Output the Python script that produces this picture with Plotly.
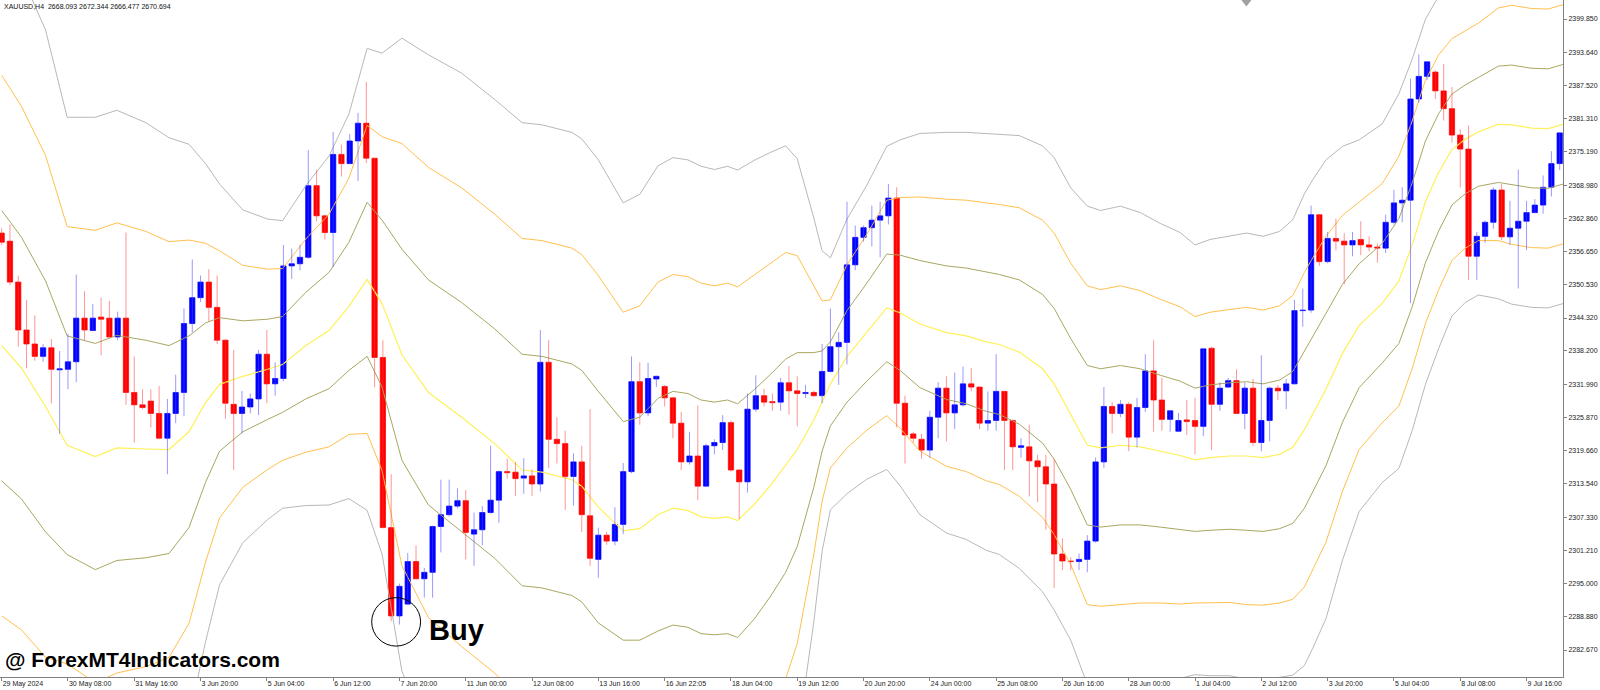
import plotly.graph_objects as go

# XAUUSD H4 candles (index 0 = 29 May 2024 00:00)
opens = [2360.1, 2358.6, 2351.0, 2342.1, 2339.5, 2337.2, 2338.8, 2334.7, 2334.8, 2336.2,
         2344.3, 2342.0, 2344.5, 2344.3, 2340.8, 2344.3, 2330.5, 2328.2, 2328.9, 2326.6,
         2322.0, 2326.6, 2330.5, 2343.3, 2348.1, 2351.0, 2346.3, 2340.2, 2328.3, 2326.6,
         2327.8, 2329.3, 2337.6, 2332.1, 2333.1, 2354.0, 2354.4, 2355.6, 2368.9, 2363.3,
         2360.2, 2374.7, 2373.0, 2377.2, 2380.5, 2374.0, 2337.0, 2305.4, 2289.0, 2291.2,
         2299.1, 2295.9, 2297.1, 2305.6, 2307.8, 2309.4, 2310.4, 2304.2, 2305.0, 2308.2,
         2310.5, 2315.8, 2315.7, 2314.6, 2315.0, 2313.5, 2336.1, 2321.8, 2321.0, 2314.9,
         2317.6, 2307.6, 2299.5, 2304.0, 2302.9, 2306.0, 2315.8, 2332.5, 2326.7, 2333.0,
         2331.6, 2329.5, 2324.8, 2317.6, 2318.7, 2313.1, 2320.6, 2321.2, 2324.9, 2316.1,
         2313.9, 2327.4, 2329.9, 2328.8, 2328.7, 2332.3, 2330.8, 2330.3, 2330.5, 2329.9,
         2334.4, 2339.0, 2339.8, 2354.2, 2359.3, 2361.1, 2362.5, 2363.3, 2366.6, 2328.5,
         2322.8, 2321.8, 2319.8, 2325.9, 2331.3, 2326.7, 2328.2, 2332.1, 2331.5, 2324.8,
         2325.3, 2330.7, 2325.3, 2320.3, 2320.4, 2317.8, 2316.7, 2313.5, 2300.5, 2299.2,
         2299.1, 2299.5, 2302.9, 2317.6, 2327.9, 2326.6, 2328.3, 2322.2, 2327.7, 2334.5,
         2329.1, 2325.5, 2323.3, 2325.4, 2325.3, 2324.2, 2338.7, 2328.3, 2331.5, 2332.7,
         2326.6, 2331.3, 2321.2, 2325.3, 2331.3, 2330.8, 2332.1, 2345.7, 2345.8, 2363.5,
         2354.8, 2359.1, 2358.6, 2357.9, 2358.9, 2357.9, 2357.5, 2357.3, 2362.1, 2365.7,
         2366.2, 2385.0, 2389.2, 2390.0, 2386.5, 2383.2, 2378.3, 2375.7, 2355.8, 2359.5,
         2362.1, 2368.1, 2359.4, 2361.0, 2362.3, 2363.9, 2365.3, 2368.6, 2373.0]
highs = [2361.0, 2361.7, 2352.2, 2347.7, 2344.8, 2339.5, 2340.4, 2338.2, 2341.4, 2352.4,
         2349.3, 2346.9, 2348.1, 2347.5, 2345.5, 2360.2, 2337.2, 2331.1, 2331.1, 2331.7,
         2329.3, 2333.8, 2346.1, 2355.2, 2352.2, 2353.4, 2352.2, 2340.4, 2338.4, 2330.8,
         2330.3, 2338.4, 2342.1, 2336.1, 2357.9, 2357.2, 2357.9, 2375.5, 2371.8, 2363.5,
         2378.9, 2376.5, 2378.5, 2382.4, 2388.2, 2374.0, 2340.2, 2315.3, 2295.0, 2300.7,
         2302.1, 2297.9, 2305.8, 2314.3, 2314.3, 2312.7, 2312.4, 2308.2, 2309.4, 2320.6,
         2316.0, 2318.2, 2317.6, 2318.3, 2316.2, 2342.1, 2340.2, 2325.9, 2323.4, 2319.2,
         2320.6, 2327.4, 2305.4, 2304.6, 2309.2, 2317.4, 2337.2, 2336.1, 2336.0, 2333.6,
         2331.9, 2329.6, 2326.9, 2323.2, 2328.1, 2321.0, 2321.8, 2326.3, 2325.3, 2316.2,
         2330.3, 2333.7, 2331.2, 2330.3, 2333.2, 2335.4, 2333.5, 2331.9, 2330.8, 2339.5,
         2346.1, 2341.7, 2365.9, 2361.5, 2361.5, 2365.2, 2365.9, 2369.2, 2368.6, 2329.9,
         2323.2, 2322.8, 2327.1, 2332.4, 2333.5, 2334.2, 2335.3, 2335.0, 2331.6, 2330.7,
         2337.6, 2330.8, 2325.5, 2322.0, 2324.5, 2318.9, 2318.9, 2318.2, 2303.4, 2299.9,
         2300.6, 2304.0, 2318.4, 2331.5, 2328.7, 2329.1, 2328.7, 2329.5, 2337.6, 2340.2,
         2333.2, 2327.2, 2326.7, 2329.1, 2329.5, 2338.7, 2339.0, 2332.4, 2333.2, 2334.8,
         2332.3, 2333.0, 2337.4, 2331.6, 2331.9, 2333.0, 2347.7, 2349.8, 2365.2, 2363.6,
         2360.3, 2362.8, 2360.1, 2360.3, 2362.3, 2359.5, 2358.2, 2363.5, 2368.1, 2368.6,
         2388.8, 2393.3, 2392.0, 2390.3, 2391.5, 2387.2, 2379.4, 2380.1, 2360.3, 2362.4,
         2368.6, 2369.2, 2366.1, 2371.9, 2366.1, 2366.4, 2370.8, 2375.3, 2378.8]
lows = [2357.9, 2350.4, 2339.0, 2335.0, 2336.4, 2336.2, 2328.5, 2322.8, 2331.1, 2332.4,
        2340.2, 2341.9, 2337.4, 2340.6, 2340.2, 2328.2, 2321.2, 2327.4, 2324.0, 2321.8,
        2315.3, 2324.8, 2326.1, 2341.7, 2347.3, 2343.7, 2339.5, 2325.6, 2316.1, 2322.9,
        2326.6, 2326.3, 2328.5, 2329.9, 2332.6, 2351.6, 2353.2, 2355.3, 2362.3, 2358.9,
        2353.8, 2370.6, 2372.9, 2369.8, 2373.1, 2331.5, 2305.3, 2288.0, 2287.4, 2291.0,
        2295.8, 2292.4, 2292.4, 2300.8, 2307.5, 2309.0, 2299.5, 2298.3, 2302.1, 2308.0,
        2306.3, 2314.5, 2311.3, 2311.7, 2311.3, 2312.1, 2316.5, 2317.3, 2308.7, 2309.5,
        2304.6, 2298.3, 2296.1, 2302.2, 2302.1, 2304.2, 2315.5, 2324.5, 2326.1, 2331.5,
        2327.9, 2322.0, 2316.1, 2317.1, 2310.5, 2313.0, 2319.0, 2319.8, 2315.8, 2307.0,
        2311.9, 2326.9, 2327.9, 2327.1, 2327.1, 2326.4, 2324.2, 2329.5, 2329.7, 2328.5,
        2334.2, 2331.9, 2335.7, 2353.2, 2358.5, 2357.6, 2355.6, 2361.7, 2324.0, 2317.3,
        2321.2, 2318.2, 2318.4, 2322.0, 2321.4, 2323.7, 2327.9, 2330.7, 2323.7, 2323.4,
        2323.4, 2316.1, 2316.1, 2318.4, 2311.2, 2310.1, 2305.0, 2294.2, 2297.5, 2297.5,
        2297.5, 2297.1, 2302.6, 2316.5, 2322.9, 2325.9, 2319.6, 2320.3, 2326.9, 2323.2,
        2323.4, 2323.2, 2323.2, 2322.6, 2319.0, 2322.4, 2319.8, 2327.1, 2331.3, 2326.5,
        2323.7, 2320.6, 2319.6, 2321.4, 2329.1, 2327.4, 2332.0, 2342.7, 2345.3, 2354.0,
        2354.5, 2356.9, 2350.6, 2355.8, 2356.0, 2356.7, 2354.6, 2356.4, 2361.7, 2362.1,
        2347.1, 2384.3, 2388.5, 2385.0, 2381.0, 2376.9, 2368.6, 2351.4, 2351.4, 2358.3,
        2360.9, 2358.8, 2357.9, 2349.8, 2356.9, 2363.8, 2363.7, 2366.9, 2371.8]
closes = [2358.4, 2351.0, 2342.1, 2339.5, 2337.2, 2338.8, 2334.8, 2334.9, 2336.2, 2344.3,
          2342.1, 2344.3, 2344.1, 2340.8, 2344.3, 2330.5, 2328.2, 2327.7, 2326.6, 2322.0,
          2326.6, 2330.5, 2343.3, 2348.1, 2351.0, 2346.3, 2340.2, 2328.5, 2326.6, 2327.8,
          2329.3, 2337.6, 2332.1, 2333.1, 2354.0, 2354.4, 2355.6, 2368.9, 2363.3, 2360.2,
          2374.7, 2373.0, 2377.2, 2380.5, 2374.0, 2337.0, 2305.4, 2289.0, 2294.5, 2299.1,
          2295.9, 2297.1, 2305.6, 2307.8, 2309.4, 2310.4, 2304.5, 2305.0, 2308.2, 2310.5,
          2315.8, 2315.6, 2314.5, 2315.0, 2313.5, 2336.1, 2321.8, 2321.0, 2314.9, 2317.6,
          2307.8, 2299.7, 2304.0, 2302.9, 2306.0, 2315.8, 2332.5, 2326.7, 2333.1, 2333.5,
          2329.5, 2324.8, 2317.6, 2318.7, 2313.1, 2320.6, 2321.2, 2324.9, 2316.1, 2313.9,
          2327.4, 2329.9, 2328.7, 2328.6, 2332.3, 2330.8, 2330.3, 2330.5, 2329.9, 2334.4,
          2339.0, 2339.8, 2354.2, 2359.3, 2361.1, 2362.5, 2363.3, 2366.6, 2328.5, 2322.6,
          2322.0, 2319.8, 2325.9, 2331.3, 2326.7, 2328.2, 2332.1, 2331.5, 2324.8, 2325.3,
          2330.7, 2325.3, 2320.4, 2320.6, 2317.8, 2316.7, 2313.5, 2300.5, 2299.2, 2299.1,
          2299.5, 2302.9, 2317.6, 2327.9, 2326.6, 2328.3, 2322.2, 2327.7, 2334.5, 2329.1,
          2325.5, 2327.1, 2325.3, 2325.1, 2324.2, 2338.6, 2328.3, 2331.3, 2332.7, 2326.6,
          2331.3, 2321.2, 2325.3, 2331.3, 2330.8, 2332.1, 2345.7, 2345.8, 2363.5, 2354.8,
          2359.1, 2358.6, 2357.9, 2358.7, 2357.9, 2357.5, 2357.3, 2362.1, 2365.7, 2366.2,
          2385.0, 2389.2, 2391.9, 2386.5, 2383.2, 2378.3, 2375.7, 2355.8, 2359.5, 2362.1,
          2368.1, 2359.4, 2361.0, 2362.3, 2363.9, 2365.3, 2368.6, 2373.0, 2378.7]

# Bollinger envelope, read at these bar positions: middle line and one deviation
band_x = [0, 2.4, 5.3, 7.9, 11.3, 13.9, 17.4, 20.2, 22.6, 24.6,
          26.3, 29.1, 32.1, 33.9, 36.7, 39.5, 41.9, 44.1, 45.9, 48.3,
          51.5, 55.5, 59.5, 62.8, 65.2, 68.8, 70.0, 72.0, 75.0, 77.0,
          79.2, 81.0, 82.8, 84.4, 86.0, 87.6, 88.8, 90.8, 92.8, 94.6,
          96.0, 98.0, 99.0, 100.0, 102.0, 104.4, 106.8, 108.4, 110.8, 114.0,
          116.4, 118.8, 120.4, 122.8, 125.6, 127.0, 129.0, 131.0, 132.6, 135.0,
          137.4, 139.8, 142.2, 144.0, 145.8, 148.2, 150.2, 152.2, 154.2, 155.8,
          157.2, 158.2, 159.8, 161.8, 163.8, 166.6, 168.6, 170.2, 171.8, 173.4,
          175.0, 176.6, 178.2, 180.6, 182.2, 184.6, 186.6, 188.4]
band_mid = [2339.2, 2335.0, 2327.9, 2320.7, 2318.6, 2320.2, 2320.0, 2319.9, 2323.2, 2328.6,
            2332.0, 2333.5, 2334.8, 2335.7, 2339.2, 2342.0, 2346.5, 2351.5, 2347.0, 2337.5,
            2330.5, 2325.9, 2321.0, 2316.1, 2315.7, 2314.3, 2313.1, 2309.2, 2304.8, 2305.2,
            2307.8, 2309.0, 2308.6, 2307.4, 2307.1, 2307.4, 2306.7, 2309.7, 2313.3, 2316.9,
            2319.9, 2325.4, 2328.9, 2332.1, 2337.2, 2341.7, 2346.2, 2345.3, 2343.2, 2341.6,
            2341.0, 2339.9, 2339.4, 2338.0, 2334.9, 2332.1, 2326.5, 2320.7, 2320.2, 2320.7,
            2320.4, 2319.6, 2318.8, 2318.0, 2318.4, 2318.7, 2318.7, 2318.4, 2319.0, 2320.3,
            2323.6, 2326.5, 2331.1, 2337.8, 2342.9, 2347.1, 2351.2, 2357.9, 2365.9, 2371.4,
            2375.6, 2377.5, 2378.9, 2380.3, 2380.2, 2379.6, 2379.5, 2380.3]
band_dev = [25.1, 24.3, 23.3, 20.3, 21.0, 20.9, 20.2, 19.3, 17.8, 14.8,
            12.4, 10.3, 9.3, 8.9, 9.9, 10.8, 11.9, 14.3, 15.5, 19.6,
            20.9, 21.3, 21.3, 21.5, 21.5, 21.5, 21.5, 21.5, 20.3, 20.7,
            21.6, 21.7, 21.7, 21.7, 21.6, 21.7, 21.7, 21.3, 20.6, 19.8,
            18.0, 12.5, 9.3, 7.8, 8.5, 9.1, 10.0, 10.7, 11.8, 12.4,
            12.6, 12.9, 13.0, 13.4, 13.8, 14.0, 14.0, 14.8, 14.7, 14.8,
            14.5, 14.1, 13.8, 13.3, 13.5, 13.6, 13.8, 13.7, 13.8, 14.1,
            14.6, 14.5, 14.2, 12.8, 11.5, 11.1, 11.6, 11.5, 11.3, 10.9,
            10.3, 10.1, 10.1, 10.8, 11.1, 11.1, 11.1, 11.1]

time_labels = ["29 May 2024", "30 May 08:00", "31 May 16:00", "3 Jun 20:00", "5 Jun 04:00",
               "6 Jun 12:00", "7 Jun 20:00", "11 Jun 00:00", "12 Jun 08:00", "13 Jun 16:00",
               "16 Jun 22:05", "18 Jun 04:00", "19 Jun 12:00", "20 Jun 20:00", "24 Jun 00:00",
               "25 Jun 08:00", "26 Jun 16:00", "28 Jun 00:00", "1 Jul 04:00", "2 Jul 12:00",
               "3 Jul 20:00", "5 Jul 04:00", "8 Jul 08:00", "9 Jul 16:00"]
price_ticks = [2399.85, 2393.64, 2387.52, 2381.31, 2375.19, 2368.98, 2362.86, 2356.65,
               2350.53, 2344.32, 2338.20, 2331.99, 2325.87, 2319.66, 2313.54, 2307.33,
               2301.21, 2295.00, 2288.88, 2282.67]

n = len(opens)
bars = list(range(n))

fig = go.Figure()

# bands: gray = 3 dev, orange = 2 dev, olive = 1 dev, yellow = middle
band_styles = [(3, "#b8b8b8"), (2, "#ffc04d"), (1, "#a9a760")]
for k, col in band_styles:
    for sign in (1, -1):
        fig.add_trace(go.Scatter(
            x=band_x, y=[m + sign * k * d for m, d in zip(band_mid, band_dev)],
            mode="lines", line=dict(color=col, width=1), hoverinfo="skip"))
fig.add_trace(go.Scatter(x=band_x, y=band_mid, mode="lines",
                         line=dict(color="#fff05a", width=1.2), hoverinfo="skip"))

up = [i for i in bars if closes[i] >= opens[i]]
dn = [i for i in bars if closes[i] < opens[i]]

for idx, body_col, wick_col in [(up, "#0000ff", "rgba(70,70,255,0.55)"),
                                (dn, "#ff0000", "rgba(255,60,60,0.55)")]:
    wx, wy = [], []
    for i in idx:
        wx += [i, i, None]
        wy += [lows[i], highs[i], None]
    fig.add_trace(go.Scatter(x=wx, y=wy, mode="lines",
                             line=dict(color=wick_col, width=1), hoverinfo="skip"))
    fig.add_trace(go.Bar(
        x=idx,
        base=[min(opens[i], closes[i]) for i in idx],
        y=[abs(closes[i] - opens[i]) for i in idx],
        width=0.64, marker=dict(color=body_col, line=dict(color=body_col, width=0.7)),
        hoverinfo="skip"))

# chart shift marker at the top edge
fig.add_trace(go.Scatter(x=[150.2], y=[2403.0], mode="markers",
                         marker=dict(symbol="triangle-down", size=9, color="#a0a0a0"),
                         hoverinfo="skip"))

# the circled buy candle
fig.add_shape(type="circle", xref="x", yref="y",
              x0=47.6 - 2.95, x1=47.6 + 2.95, y0=2287.9 - 4.5, y1=2287.9 + 4.5,
              line=dict(color="black", width=1))
fig.add_annotation(x=51.3, y=2286.4, xref="x", yref="y", text="<b>Buy</b>",
                   showarrow=False, xanchor="left", yanchor="middle",
                   font=dict(family="Liberation Sans", size=29, color="black"))

fig.add_annotation(x=0.001, y=1, xref="paper", yref="paper",
                   text="XAUUSD,H4\u00a0 2668.093 2672.344 2666.477 2670.694",
                   showarrow=False, xanchor="left", yanchor="top", yshift=-1,
                   font=dict(family="Liberation Sans", size=7, color="#111"))
fig.add_annotation(x=0.002, y=(677 - 659) / 677, xref="paper", yref="paper",
                   text="<b>@ ForexMT4Indicators.com</b>",
                   showarrow=False, xanchor="left", yanchor="middle",
                   font=dict(family="Liberation Sans", size=21, color="black"))

fig.update_layout(
    width=1600, height=690,
    margin=dict(l=0, r=37, t=0, b=13, autoexpand=False),
    paper_bgcolor="white", plot_bgcolor="white",
    showlegend=False, barmode="overlay",
    xaxis=dict(range=[-0.2, 188.4], tickvals=list(range(0, n, 8))[:len(time_labels)],
               ticktext=time_labels, ticklabelposition="outside right",
               ticks="outside", ticklen=3, tickcolor="#808080", automargin=False,
               showgrid=False, zeroline=False, showline=True, linecolor="#808080",
               tickfont=dict(family="Liberation Sans", size=7, color="#222")),
    yaxis=dict(side="right", range=[2277.66, 2403.38], tickvals=price_ticks,
               ticktext=[f"{p:.3f}" for p in price_ticks], automargin=False,
               ticks="outside", ticklen=3, tickcolor="#808080",
               showgrid=False, zeroline=False, showline=True, linecolor="#808080",
               tickfont=dict(family="Liberation Sans", size=7, color="#222")),
)

# the page's default body margin would push the 1600x690 figure off the window
fig.write_html("out.html", config={"displayModeBar": False},
               post_script="document.body.style.margin='0';")
